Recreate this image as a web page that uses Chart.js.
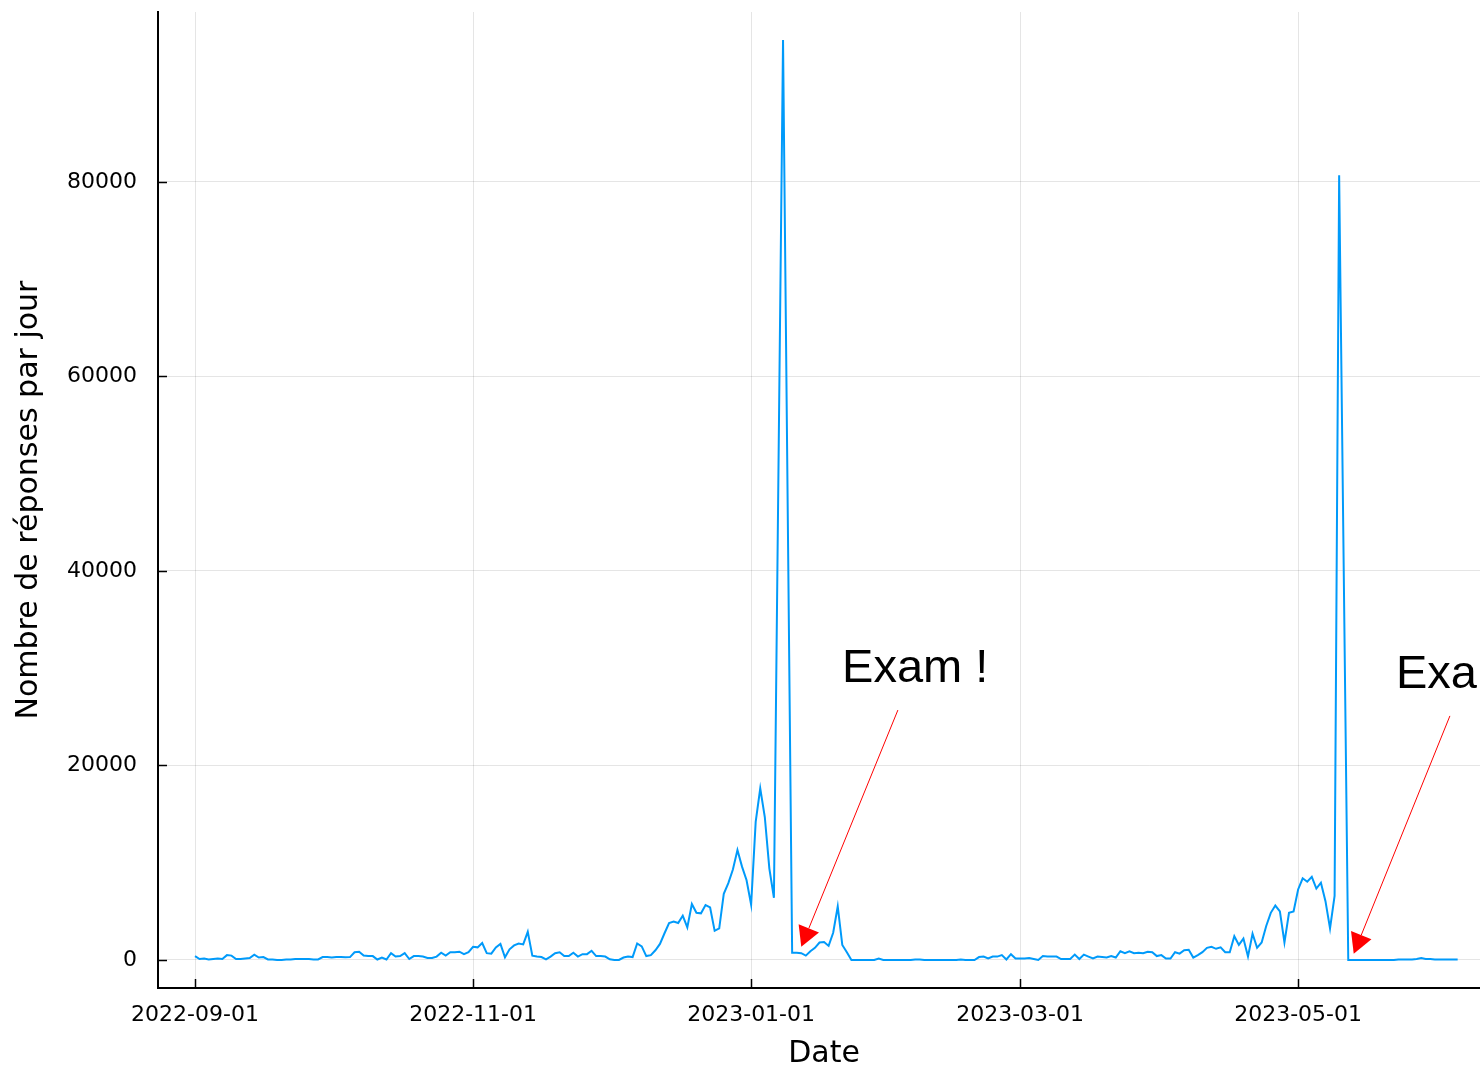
<!DOCTYPE html>
<html>
<head>
<meta charset="utf-8">
<script src="https://cdn.jsdelivr.net/npm/chart.js@4.4.0/dist/chart.umd.min.js"></script>
<style>
  html, body { margin: 0; padding: 0; background: #fff; }
  #wrap { width: 1480px; height: 1069px; position: relative; }
</style>
</head>
<body>
<div id="wrap"><canvas id="chart"></canvas></div>
<script>
// daily answers, one value per day starting at startDate (null = no data that day)
const startDate = '2022-09-01';
const tickDates = ['2022-09-01', '2022-11-01', '2023-01-01', '2023-03-01', '2023-05-01'];
const yTicks = [0, 20000, 40000, 60000, 80000];

const dailyAnswers = [
    400, 100, 150, 50, 100, 150, 100, 500, 450, 100,
    100, 150, 200, 550, 250, 300, 50, 50, 0, 0,
    50, 50, 100, 100, 100, 100, 50, 50, 300, 300,
    250, 300, 300, 270, 300, 800, 850, 450, 400, 400,
    50, 250, 50, 700, 350, 400, 700, 100, 400, 400,
    350, 200, 200, 350, 750, 450, 800, 800, 850, 600,
    800, 1350, 1300, 1750, 700, 650, 1300, 1650, 270, 1100,
    1500, 1700, 1600, 2900, 450, 350, 300, 70, 350, 700,
    800, 400, 400, 750, 350, 600, 600, 950, 400, 400,
    350, 70, 0, 0, 250, 350, 300, 1700, 1400, 400,
    500, 1000, 1650, 2750, 3800, 3950, 3800, 4550, 3350, 5750,
    4850, 4800, 5650, 5400, 3000, 3250, 6800, 7900, 9300, 11300,
    9600, 8200, 5700, 14200, 17650, 14700, 9400, 6400, null, 94600,
    null, 750, 750, 700, 450, 900, 1250, 1800, 1850, 1450,
    2800, 5500, 1550, 800, 0, 0, 0, 0, 0, 0,
    150, 0, 0, 0, 0, 0, 0, 0, 50, 50,
    0, 0, 0, 0, 0, 0, 0, 0, 50, 0,
    0, 0, 300, 350, 150, 350, 350, 500, 50, 600,
    150, 150, 150, 200, 100, 0, 400, 350, 350, 350,
    100, 100, 100, 550, 100, 550, 350, 150, 350, 300,
    250, 400, 250, 900, 700, 900, 700, 750, 700, 850,
    800, 400, 500, 150, 150, 800, 650, 1000, 1050, 250,
    500, 800, 1250, 1350, 1150, 1300, 800, 800, 2450, 1550,
    2200, 350, 2700, 1250, 1800, 3500, 4850, 5600, 5000, 1800,
    4850, 5000, 7250, 8400, 8050, 8550, 7350, 7950, 6050, 3250,
    6600, 80700, null, 0, 0, 0, 0, 0, 0, 0,
    0, 0, 0, 0, 50, 50, 50, 50, 100, 200,
    100, 100, 50, 50, 50, 50, 50, 50
];

// annotations: text anchor and arrow, in [day offset, answers]
const notes = [
    { text: 'Exam !', at: [158.0, 29950], from: [154.2, 25700], to: [133.0, 1350] },
    { text: 'Exam !', at: [279.5, 29300], from: [275.3, 25100], to: [254.2, 650] }
];

const dayOf = s => (Date.parse(s) - Date.parse(startDate)) / 86400000;
const tickDays = tickDates.map(dayOf);
const points = dailyAnswers.map((v, i) => ({ x: i, y: v }));

const overlay = {
    id: 'overlay',
    afterDraw(chart) {
        const { ctx, chartArea: a, scales: { x, y } } = chart;
        ctx.save();
        // inward tick marks
        ctx.strokeStyle = '#000';
        ctx.lineWidth = 1.5;
        ctx.beginPath();
        tickDays.forEach(d => {
            const px = Math.round(x.getPixelForValue(d)) + 0.5;
            ctx.moveTo(px, a.bottom);
            ctx.lineTo(px, a.bottom - 9);
        });
        yTicks.forEach(v => {
            const py = Math.round(y.getPixelForValue(v)) + 0.5;
            ctx.moveTo(a.left, py);
            ctx.lineTo(a.left + 9, py);
        });
        ctx.stroke();

        // axis titles
        ctx.fillStyle = '#000';
        ctx.font = '30px "DejaVu Sans"';
        ctx.textAlign = 'center';
        ctx.textBaseline = 'middle';
        ctx.fillText('Date', 824, a.bottom + 66);
        ctx.save();
        ctx.translate(29, (a.top + a.bottom) / 2);
        ctx.rotate(-Math.PI / 2);
        ctx.fillText('Nombre de réponses par jour', 0, 0);
        ctx.restore();

        // exam annotations
        notes.forEach(n => {
            const x0 = x.getPixelForValue(n.from[0]), y0 = y.getPixelForValue(n.from[1]);
            const x1 = x.getPixelForValue(n.to[0]), y1 = y.getPixelForValue(n.to[1]);
            const len = Math.hypot(x1 - x0, y1 - y0);
            const ux = (x1 - x0) / len, uy = (y1 - y0) / len;
            const bx = x1 - ux * 20, by = y1 - uy * 20;
            ctx.strokeStyle = '#ff0000';
            ctx.fillStyle = '#ff0000';
            ctx.lineWidth = 1;
            ctx.beginPath();
            ctx.moveTo(x0, y0);
            ctx.lineTo(bx, by);
            ctx.stroke();
            ctx.beginPath();
            ctx.moveTo(x1, y1);
            ctx.lineTo(bx - uy * 11, by + ux * 11);
            ctx.lineTo(bx + uy * 11, by - ux * 11);
            ctx.closePath();
            ctx.fill();

            ctx.fillStyle = '#000';
            ctx.font = '47px "Liberation Sans"';
            ctx.textAlign = 'center';
            ctx.textBaseline = 'middle';
            ctx.fillText(n.text, x.getPixelForValue(n.at[0]), y.getPixelForValue(n.at[1]));
        });
        ctx.restore();
    }
};

const gridColor = 'rgba(0, 0, 0, 0.1)';

new Chart(document.getElementById('chart').getContext('2d'), {
    type: 'line',
    data: {
        datasets: [{
            label: 'Réponses',
            data: points,
            borderColor: '#009afa',
            borderWidth: 2,
            pointRadius: 0,
            tension: 0,
            spanGaps: true,
            fill: false
        }]
    },
    options: {
        responsive: true,
        maintainAspectRatio: false,
        animation: false,
        devicePixelRatio: 1,
        layout: { padding: { top: 12, left: 0, right: 0, bottom: 0 } },
        plugins: {
            legend: { display: false },
            tooltip: { enabled: false }
        },
        scales: {
            x: {
                type: 'linear',
                min: -8.12,
                max: 281.9,
                afterBuildTicks: s => { s.ticks = tickDays.map(v => ({ value: v })); },
                afterFit: s => { s.height = 81; s.paddingLeft = 0; s.paddingRight = 0; },
                ticks: {
                    callback: (v, i) => tickDates[i],
                    font: { family: 'DejaVu Sans', size: 22 },
                    color: '#000',
                    padding: 14,
                    maxRotation: 0,
                    autoSkip: false
                },
                grid: { color: gridColor, lineWidth: 1, drawTicks: false },
                border: { display: true, color: '#000', width: 2 }
            },
            y: {
                min: -2880,
                max: 97480,
                afterBuildTicks: s => { s.ticks = yTicks.map(v => ({ value: v })); },
                afterFit: s => { s.width = 158; s.paddingTop = 0; s.paddingBottom = 0; },
                ticks: {
                    callback: v => String(v),
                    font: { family: 'DejaVu Sans', size: 22 },
                    color: '#000',
                    padding: 21
                },
                grid: { color: gridColor, lineWidth: 1, drawTicks: false },
                border: { display: true, color: '#000', width: 2 }
            }
        }
    },
    plugins: [overlay]
});
</script>
</body>
</html>
